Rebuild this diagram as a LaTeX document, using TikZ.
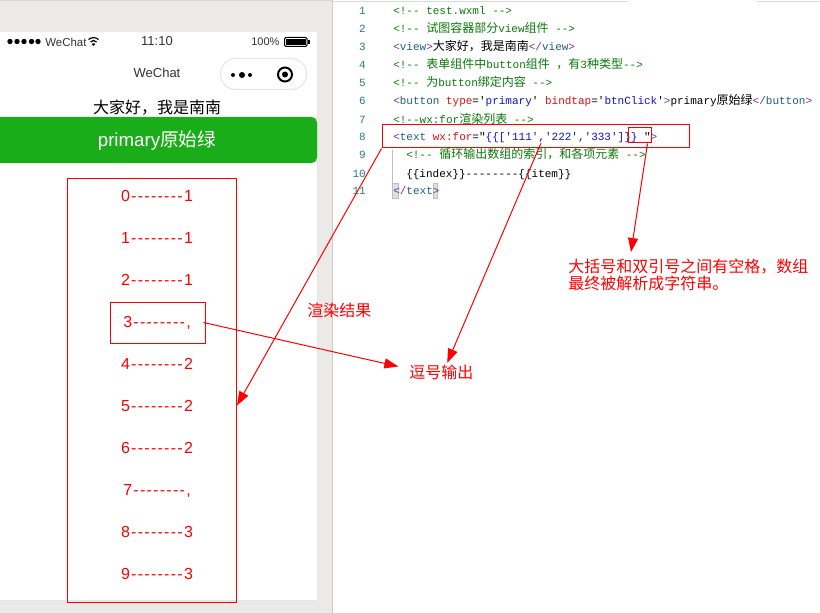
\documentclass[tikz,border=0pt]{standalone}
\usepackage{fontspec}
\usetikzlibrary{arrows.meta}
\setmainfont{Liberation Sans}
\newfontfamily\cjkf{Noto Sans CJK SC}
\newfontfamily\codef{Liberation Mono}
\newfontfamily\rowf[LetterSpace=8]{Liberation Sans}
\definecolor{pagegray}{HTML}{EBEAE7}
\definecolor{wxgreen}{HTML}{1AAD19}
\definecolor{lnum}{HTML}{2B7A8C}
\definecolor{cmt}{HTML}{0A7A0A}
\definecolor{tagp}{HTML}{7A2AA0}
\definecolor{tagn}{HTML}{1F5F7F}
\definecolor{attrc}{HTML}{E01010}
\definecolor{strc}{HTML}{1010E0}
\newcommand\zh[1]{{\fontsize{9pt}{9pt}\cjkf #1}}
\newcommand\cdC[1]{\textcolor{cmt}{#1}}
\newcommand\cdT[1]{\textcolor{tagp}{#1}}
\newcommand\cdN[1]{\textcolor{tagn}{#1}}
\newcommand\cdA[1]{\textcolor{attrc}{#1}}
\newcommand\cdS[1]{\textcolor{strc}{#1}}
\tikzset{
  x=0.75pt,y=-0.75pt,
  redbox/.style={draw=red,line width=0.75pt,inner sep=0pt,fill=none},
  redarrow/.style={draw=red,line width=0.75pt,-{Triangle[length=10.5pt,width=7.5pt,fill=red]}},
  codeline/.style={anchor=base west,inner sep=0pt,font=\codef\fontsize{8.25pt}{9pt}\selectfont},
  linenum/.style={anchor=base east,inner sep=0pt,text=lnum,font=\codef\fontsize{8.25pt}{9pt}\selectfont},
  rowtext/.style={anchor=base,inner sep=0pt,text=red,font=\rowf\fontsize{12pt}{12pt}\selectfont},
  notetext/.style={inner sep=0pt,text=red,font=\cjkf\fontsize{12pt}{11.4pt}\selectfont,align=left},
  statustext/.style={inner sep=0pt,text=black!80,font=\fontsize{8.6pt}{9pt}\selectfont},
}
\begin{document}
\begin{tikzpicture}
\useasboundingbox (0,0) rectangle (820,613);
% page backgrounds
\fill[pagegray] (0,0) rectangle (333,613);
\fill[white] (333,0) rectangle (820,613);
\draw[black!20,line width=0.75pt] (332.5,0) -- (332.5,613);
\draw[black!15,line width=0.75pt] (0,0.5) -- (332,0.5);
\draw[black!15,line width=0.75pt] (333,1.5) -- (628,1.5);
\draw[black!15,line width=0.75pt] (757,1.5) -- (820,1.5);
% phone
\fill[black!10] (0,33) rectangle (318,601);
\fill[white] (0,32) rectangle (317,600);
% status bar
\foreach \dx in {10,17,24,31.5,38}{\fill[black] (\dx,41.5) circle[radius=2.7];}
\node[statustext,anchor=west] (carrier) at (45,42) {WeChat};
\begin{scope}[black,line width=0.9pt]
\draw (88.5,39.5) .. controls (91.5,37) and (95.5,37) .. (98.5,39.5);
\draw (90.5,42) .. controls (92.5,40) and (94.5,40) .. (96.5,42);
\fill (93.5,46) -- (91.5,44) .. controls (92.5,43) and (94.5,43) .. (95.5,44) -- cycle;
\end{scope}
\node[statustext,font=\fontsize{9.75pt}{10pt}\selectfont] (clock) at (157,41.5) {11:10};
\node[statustext,anchor=west,font=\fontsize{8.25pt}{9pt}\selectfont] (percent) at (251,42) {100\%};
\draw[black,line width=0.75pt,rounded corners=1pt] (284.5,37.5) rectangle (307,46.5);
\fill[black] (286,39) rectangle (305.5,45);
\fill[black] (308,40) rectangle (310,44);
% nav bar
\node[statustext,font=\fontsize{9.75pt}{10pt}\selectfont] (navtitle) at (157,73) {WeChat};
\draw[black!10,fill=white,line width=0.75pt,rounded corners=11.5pt] (220.5,58.5) rectangle (306.5,89.5);
\fill[black] (233,75) circle[radius=2] (242,75) circle[radius=3] (250,75) circle[radius=2];
\draw[black,line width=1.5pt] (285,74.5) circle[radius=7];
\fill[black] (285,74.5) circle[radius=3];
% content
\node[inner sep=0pt,text=black,font=\cjkf\fontsize{12pt}{12pt}\selectfont] (greeting) at (157,107.5) {大家好，我是南南};
\fill[wxgreen,rounded corners=4pt] (-6,117) rectangle (317,163);
\node[inner sep=0pt,text=white,font=\fontsize{14pt}{14pt}\selectfont] (primary) at (157,140.5) {primary{\cjkf 原始绿}};
% list rows
\node[rowtext] (row0) at (157,201) {0--------1};
\node[rowtext] (row1) at (157,243) {1--------1};
\node[rowtext] (row2) at (157,285) {2--------1};
\node[rowtext] (row3) at (157,327) {3--------,};
\node[rowtext] (row4) at (157,369) {4--------2};
\node[rowtext] (row5) at (157,411) {5--------2};
\node[rowtext] (row6) at (157,453) {6--------2};
\node[rowtext] (row7) at (157,495) {7--------,};
\node[rowtext] (row8) at (157,537) {8--------3};
\node[rowtext] (row9) at (157,579) {9--------3};
\node[redbox,minimum width=126.75pt,minimum height=318pt] (listbox) at (152,390) {};
\node[redbox,minimum width=71.25pt,minimum height=30.75pt] (rowbox) at (157.5,322.5) {};
% line numbers
\foreach \n/\yy in {1/15,2/33,3/51,4/69,5/87,6/105,7/123,8/141,9/159,10/177,11/195}{
  \node[linenum] (ln\n) at (366,\yy) {\n};
}
% code
\fill[black!12] (392,183) rectangle (399,199) (433,183) rectangle (438,199);
\draw[black!25,line width=0.5pt] (392.5,183.5) rectangle (398.5,198.5) (433,183.5) rectangle (437.5,198.5);
\draw[black!25,line width=0.5pt] (392.5,150) -- (392.5,183);
\node[codeline] (code1) at (393,15) {\cdC{<!-- test.wxml -->}};
\node[codeline] (code2) at (393,33) {\cdC{<!-- \zh{试图容器部分}view\zh{组件} -->}};
\node[codeline] (code3) at (393,51) {\cdT{<}\cdN{view}\cdT{>}\zh{大家好，我是南南}\cdT{</}\cdN{view}\cdT{>}};
\node[codeline] (code4) at (393,69) {\cdC{<!-- \zh{表单组件中}button\zh{组件} \zh{，有}3\zh{种类型}-->}};
\node[codeline] (code5) at (393,87) {\cdC{<!-- \zh{为}button\zh{绑定内容} -->}};
\node[codeline] (code6) at (393,105) {\cdT{<}\cdN{button} \cdA{type}='\cdS{primary}' \cdA{bindtap}='\cdS{btnClick}'\cdT{>}primary\zh{原始绿}\cdT{</}\cdN{button}\cdT{>}};
\node[codeline] (code7) at (393,123) {\cdC{<!--wx:for\zh{渲染列表} -->}};
\node[codeline] (code8) at (393,141) {\cdT{<}\cdN{text} \cdA{wx:for}="\cdS{\{\{['111','222','333']\}\} }"\cdT{>}};
\node[codeline] (code9) at (406,159) {\cdC{<!-- \zh{循环输出数组的索引，和各项元素} -->}};
\node[codeline] (code10) at (406,177) {\{\{index\}\}--------\{\{item\}\}};
\node[codeline] (code11) at (393,195) {\cdT{</}\cdN{text}\cdT{>}};
% annotation boxes
\node[redbox,minimum width=230.25pt,minimum height=17.25pt] (codebox) at (535.5,136.5) {};
\node[redbox,minimum width=17.25pt,minimum height=11.25pt] (bracebox) at (639.5,135.5) {};
% labels
\node[notetext,anchor=west] (renderlabel) at (307,310.5) {渲染结果};
\node[notetext,anchor=west] (commalabel) at (409,372.5) {逗号输出};
\node[notetext,anchor=north west] (notelabel) at (568,259) {大括号和双引号之间有空格，数组\\最终被解析成字符串。};
\coordinate (commamark) at (541,143);
\coordinate (notetip) at (631,252);
% connectors
\draw[redarrow] (codebox.south west) -- (listbox.east |- row5.center);
\draw[redarrow] (commamark) -- ([xshift=4.5pt,yshift=1.5pt]commalabel.north);
\draw[redarrow] ([xshift=6pt]bracebox.south) -- (notetip);
\draw[redarrow] ([xshift=-1.5pt]rowbox.east) -- ([xshift=-8pt,yshift=4.5pt]commalabel.west);
\end{tikzpicture}
\end{document}
